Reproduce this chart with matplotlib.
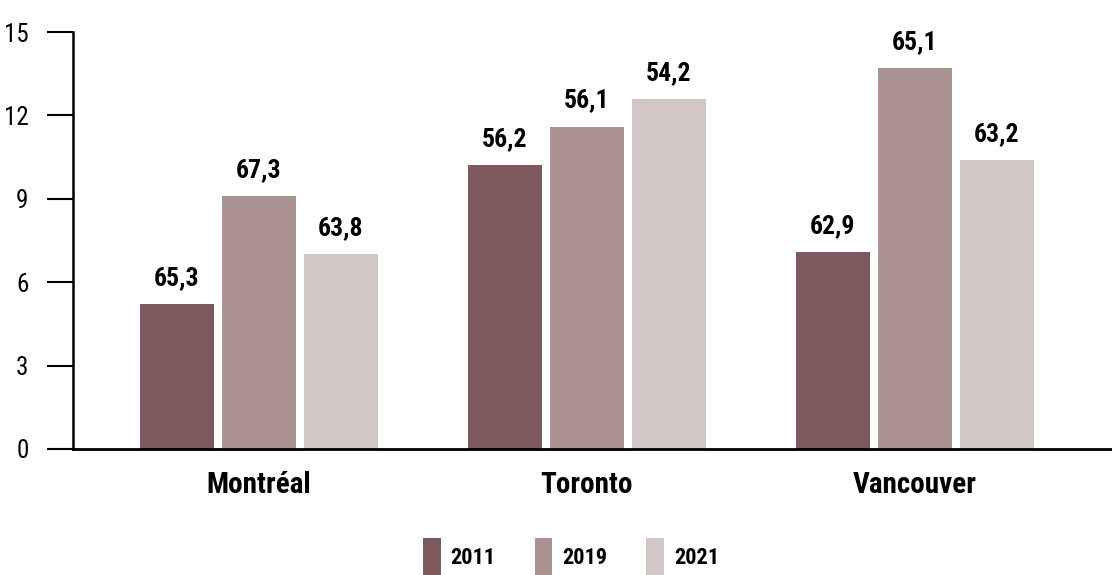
import matplotlib
matplotlib.use("Agg")
import matplotlib.pyplot as plt
from matplotlib.patches import Patch
import numpy as np

plt.rcParams['font.family'] = ['Liberation Sans Narrow', 'DejaVu Sans Condensed', 'Roboto Condensed', 'Roboto', 'DejaVu Sans']

categories = ["Montréal", "Toronto", "Vancouver"]
years = ["2011", "2019", "2021"]
# bar heights (axis scale)
heights_2011 = [5.2, 10.2, 7.1]
heights_2019 = [9.1, 11.6, 13.7]
heights_2021 = [7.0, 12.6, 10.4]
# labels shown above bars
labels_2011 = ["65,3", "56,2", "62,9"]
labels_2019 = ["67,3", "56,1", "65,1"]
labels_2021 = ["63,8", "54,2", "63,2"]
yticks = [0, 3, 6, 9, 12, 15]

colors = ["#7E5A5E", "#AB9393", "#D3C6C6"]

fig = plt.figure(figsize=(11.12, 5.75), dpi=100)
ax = fig.add_axes([73/1112, 1-449/575, 1-73/1112, (449-32)/575])

x = np.arange(len(categories))
step = 0.25
width = 0.2256
series = [(heights_2011, labels_2011), (heights_2019, labels_2019), (heights_2021, labels_2021)]
for i, ((h, lab), c) in enumerate(zip(series, colors)):
    bars = ax.bar(x + (i - 1) * step, h, width=width, color=c, zorder=2)
    ax.bar_label(bars, labels=lab, padding=10, fontsize=18.5, fontweight='bold', color='black')

ax.set_xlim(-0.567, 2.601)
ax.set_ylim(0, 15)
ax.set_yticks(yticks)
ax.set_yticklabels([str(v) for v in yticks], fontsize=18)
ax.tick_params(axis='y', length=19, width=1.5, pad=13, direction='out', colors='black')
ax.set_xticks(x)
ax.set_xticklabels(categories, fontsize=21, fontweight='bold')
ax.tick_params(axis='x', length=0, pad=16)

for s in ['top', 'right']:
    ax.spines[s].set_visible(False)
ax.spines['left'].set_linewidth(1.8)
ax.spines['bottom'].set_linewidth(2.0)
ax.spines['left'].set_zorder(3)
ax.spines['bottom'].set_zorder(3)

handles = [Patch(facecolor=c, edgecolor='none') for c in colors]
fig.legend(handles, years, loc='center', bbox_to_anchor=(571/1112, 1-557/575),
           ncol=3, frameon=False, prop={'size': 16, 'weight': 'bold'},
           handlelength=0.8, handleheight=2.3, handletextpad=0.45, columnspacing=1.75)

fig.savefig("out.png", dpi=100)
